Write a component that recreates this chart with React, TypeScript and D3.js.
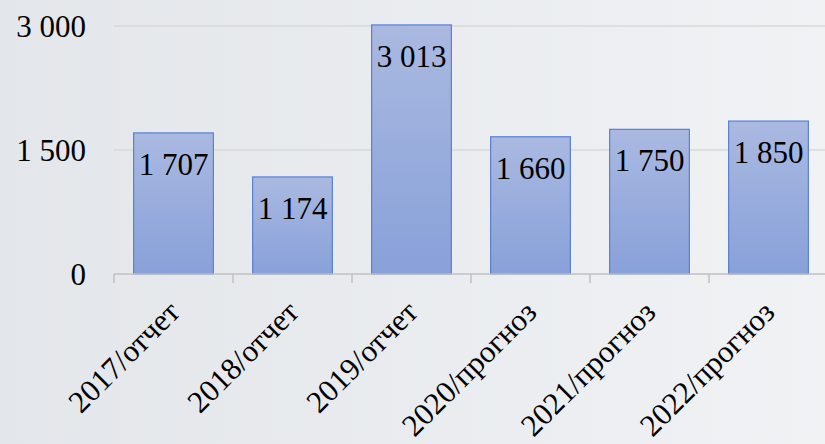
import React from "react";
import * as d3 from "d3";

const categories = ["2017/отчет", "2018/отчет", "2019/отчет", "2020/прогноз", "2021/прогноз", "2022/прогноз"];
const values = [1707, 1174, 3013, 1660, 1750, 1850];
const valueLabels = ["1 707", "1 174", "3 013", "1 660", "1 750", "1 850"];
const yTicks = [0, 1500, 3000];
const yTickLabels = ["0", "1 500", "3 000"];

const W = 825;
const H = 444;
const FONT = "Liberation Serif, Tinos, Times New Roman, DejaVu Serif, serif";

export default function App() {
  const x = d3.scaleBand<string>().domain(categories).range([114, 828]).paddingInner(0.33).paddingOuter(0.165);
  const y = d3.scaleLinear().domain([0, 3000]).range([274, 26]);
  const step = x.step();
  const x0 = 114;
  const ts = { fontFamily: FONT, fontSize: "31px" } as React.CSSProperties;

  return (
    <svg width={W} height={H} style={{ position: "absolute", left: 0, top: 0 }} xmlns="http://www.w3.org/2000/svg">
      <defs>
        <linearGradient id="bg" x1="0" y1="0" x2="1" y2="0">
          <stop offset="0" stopColor="#e3e6ea" />
          <stop offset="1" stopColor="#f0f2f4" />
        </linearGradient>
        <linearGradient id="bar" x1="0" y1="0" x2="0" y2="1">
          <stop offset="0" stopColor="#aab9e1" />
          <stop offset="1" stopColor="#88a1d9" />
        </linearGradient>
      </defs>
      <rect x={0} y={0} width={W} height={H} fill="url(#bg)" />
      {yTicks.slice(1).map((t) => (
        <line key={t} x1={x0} x2={W} y1={y(t)} y2={y(t)} stroke="#d9d9d9" strokeWidth={1.5} />
      ))}
      {categories.map((c, i) => (
        <rect
          key={c}
          x={x(c)}
          y={y(values[i])}
          width={x.bandwidth()}
          height={y(0) - y(values[i])}
          fill="url(#bar)"
          stroke="#5a80d2"
          strokeWidth={1.2}
        />
      ))}
      <line x1={x0} x2={W} y1={y(0)} y2={y(0)} stroke="#c0c0c0" strokeWidth={1.5} />
      {d3.range(categories.length + 1).map((i) => (
        <line key={i} x1={x0 + i * step} x2={x0 + i * step} y1={y(0)} y2={y(0) + 9} stroke="#c0c0c0" strokeWidth={1.5} />
      ))}
      {yTicks.map((t, i) => (
        <text key={t} x={86} y={y(t) + 11} textAnchor="end" style={ts} fill="#000">
          {yTickLabels[i]}
        </text>
      ))}
      {categories.map((c, i) => (
        <text
          key={c}
          x={(x(c) as number) + x.bandwidth() / 2}
          y={y(values[i]) + 42}
          textAnchor="middle"
          style={ts}
          fill="#000"
        >
          {valueLabels[i]}
        </text>
      ))}
      {categories.map((c) => {
        const cx = (x(c) as number) + x.bandwidth() / 2 + 8;
        const cy = 314;
        return (
          <text
            key={c}
            x={cx}
            y={cy}
            transform={`rotate(-45 ${cx} ${cy})`}
            textAnchor="end"
            style={ts}
            fill="#000"
          >
            {c}
          </text>
        );
      })}
    </svg>
  );
}
